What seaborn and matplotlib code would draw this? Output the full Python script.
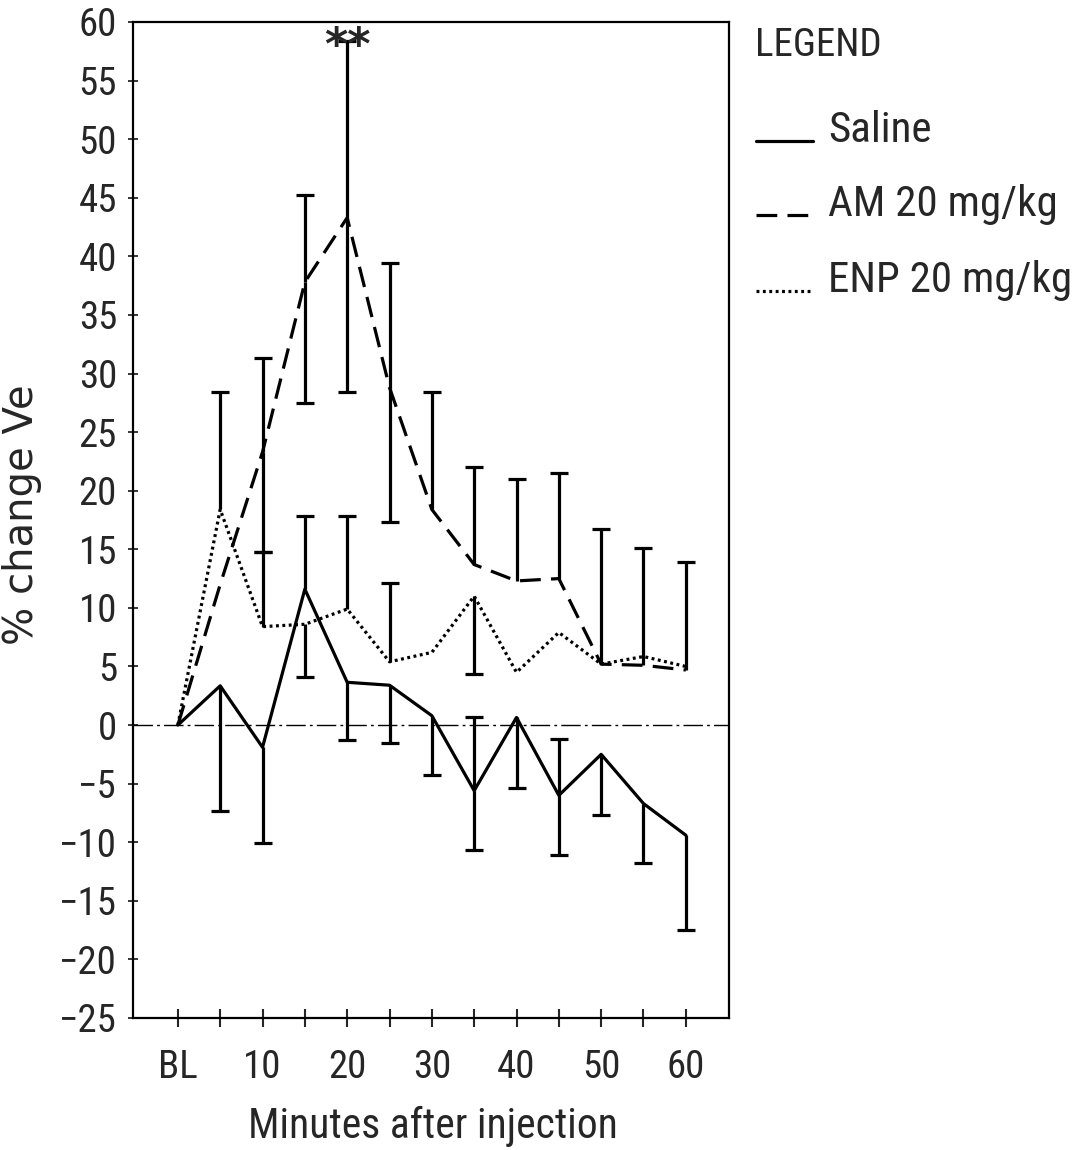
import matplotlib
matplotlib.use("Agg")
import matplotlib.pyplot as plt
from matplotlib import font_manager
from matplotlib.lines import Line2D
import seaborn as sns
import numpy as np
import pandas as pd

# ---------------- data ----------------
times = [0, 5, 10, 15, 20, 25, 30, 35, 40, 45, 50, 55, 60]
tick_labels = ["BL", "", "10", "", "20", "", "30", "", "40", "", "50", "", "60"]
nan = np.nan

saline = [0, 3.35, -1.9, 11.6, 3.65, 3.4, 0.8, -5.6, 0.65, -6.0, -2.5, -6.7, -9.4]
saline_err_up = [nan, nan, nan, 6.2, nan, nan, nan, 6.25, nan, 4.8, nan, nan, nan]
saline_err_lo = [nan, 10.65, 8.2, nan, 4.95, 4.95, 5.1, 5.1, 6.05, 5.05, 5.2, 5.1, 8.1]

am = [0, 12.0, 23.3, 37.8, 43.3, 28.8, 18.4, 13.7, 12.3, 12.5, 5.2, 5.1, 4.7]
am_err_up = [nan, nan, 8.0, 7.4, 15.1, 10.6, 10.0, 8.35, 8.7, 9.0, 11.5, 10.0, 9.2]
am_err_lo = [nan, nan, 8.5, 10.3, 14.9, 11.5, nan, nan, nan, nan, nan, nan, nan]

enp = [0, 18.4, 8.4, 8.6, 9.9, 5.4, 6.2, 11.0, 4.5, 7.9, 5.2, 5.85, 5.0]
enp_err_up = [nan, 10.0, 6.4, nan, 7.9, 6.7, nan, nan, nan, nan, nan, nan, nan]
enp_err_lo = [nan, nan, nan, 4.5, nan, nan, nan, 6.65, nan, nan, nan, nan, nan]

series_names = ["Saline", "AM 20 mg/kg", "ENP 20 mg/kg"]
y_ticks = list(range(-25, 61, 5))

# ---------------- style ----------------
sns.set_style("white")
names = {f.name for f in font_manager.fontManager.ttflist}
narrow = next(n for n in ["Liberation Sans Narrow", "Roboto Condensed",
                          "DejaVu Sans Condensed", "Liberation Sans", "DejaVu Sans"]
              if n in names)
plt.rcParams["font.family"] = [narrow, "DejaVu Sans"]

LW = 2.3
styles = {
    "Saline": "-",
    "AM 20 mg/kg": (0, (6.5, 3.2)),
    "ENP 20 mg/kg": (0, (0.9, 1.1)),
}

fig = plt.figure(figsize=(10.81, 11.5), dpi=100)
W, H = 1081, 1150
ax = fig.add_axes([133 / W, 1 - 1018 / H, (729 - 133) / W, (1018 - 22) / H])

df = pd.DataFrame({
    "time": times * 3,
    "value": saline + am + enp,
    "group": [series_names[0]] * 13 + [series_names[1]] * 13 + [series_names[2]] * 13,
})

# zero reference line
ax.axhline(0, color="black", lw=1.0, linestyle=(0, (14, 3, 2, 3)), zorder=1)

for name in series_names:
    sub = df[df["group"] == name]
    sns.lineplot(data=sub, x="time", y="value", ax=ax, color="black",
                 lw=LW, linestyle=styles[name], legend=False, zorder=3)

def draw_err(x, y, err, sign):
    x = np.asarray(x, float)
    y = np.asarray(y, float)
    err = np.asarray(err, float)
    m = ~np.isnan(err)
    ends = y[m] + sign * err[m]
    ax.vlines(x[m], y[m], ends, color="black", lw=LW, zorder=3)
    ax.plot(x[m], ends, ls="none", marker="_", ms=13, mew=LW, color="black", zorder=3)

for y, up, lo in [(saline, saline_err_up, saline_err_lo),
                  (am, am_err_up, am_err_lo),
                  (enp, enp_err_up, enp_err_lo)]:
    draw_err(times, y, up, +1)
    draw_err(times, y, lo, -1)

# significance marker
ax.text(20, 57.9, "**", ha="center", va="center", fontsize=32,
        fontweight="bold", family="DejaVu Sans", zorder=5)

# axes
ax.set_xlim(-5.3, 65.1)
ax.set_ylim(-25, 60)
ax.set_xticks(times)
ax.set_xticklabels(tick_labels)
ax.set_yticks(y_ticks)
ax.set_yticklabels([f"{v}".replace("-", "\u2212") for v in y_ticks])
for s in ax.spines.values():
    s.set_linewidth(1.6)
    s.set_color("black")
ax.tick_params(axis="x", direction="inout", length=13, width=1.5, pad=16,
               labelsize=28, bottom=True)
ax.tick_params(axis="y", direction="inout", length=7, width=1.3, pad=8,
               labelsize=28, left=True)
ax.set_xlabel("Minutes after injection", fontsize=30)
ax.xaxis.set_label_coords(0.503, -0.088)
ax.set_ylabel("% change Ve", fontsize=29, family="DejaVu Sans")
ax.yaxis.set_label_coords(-0.152, 0.505)
ax.grid(False)

# legend (manual, figure coordinates)
def fx(px):
    return px / W

def fy(py):
    return 1 - py / H

fig.text(fx(755), fy(46), "LEGEND", fontsize=28, ha="left", va="center")
leg_rows = [("Saline", 142), ("AM 20 mg/kg", 216), ("ENP 20 mg/kg", 292)]
for (label, base) in leg_rows:
    fig.text(fx(828), fy(base), label, fontsize=31, ha="left", va="baseline")
    fig.add_artist(Line2D([fx(756), fx(813)], [fy(base - 1), fy(base - 1)],
                          color="black", lw=LW, linestyle=styles[label],
                          transform=fig.transFigure))

fig.savefig("out.png", dpi=100, facecolor="white")
